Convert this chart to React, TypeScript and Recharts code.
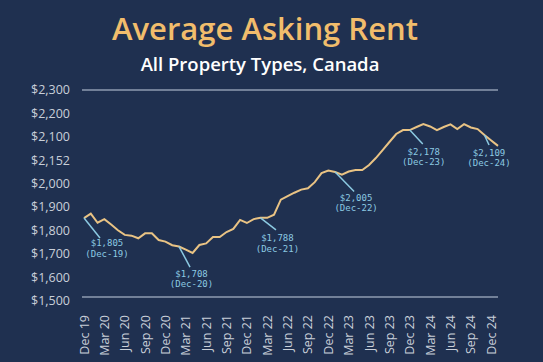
import { LineChart, Line, XAxis, YAxis, CartesianGrid } from "recharts";

const months = [
  "Dec 19", "Jan 20", "Feb 20", "Mar 20", "Apr 20", "May 20", "Jun 20", "Jul 20", "Aug 20", "Sep 20", "Oct 20", "Nov 20",
  "Dec 20", "Jan 21", "Feb 21", "Mar 21", "Apr 21", "May 21", "Jun 21", "Jul 21", "Aug 21", "Sep 21", "Oct 21", "Nov 21",
  "Dec 21", "Jan 22", "Feb 22", "Mar 22", "Apr 22", "May 22", "Jun 22", "Jul 22", "Aug 22", "Sep 22", "Oct 22", "Nov 22",
  "Dec 22", "Jan 23", "Feb 23", "Mar 23", "Apr 23", "May 23", "Jun 23", "Jul 23", "Aug 23", "Sep 23", "Oct 23", "Nov 23",
  "Dec 23", "Jan 24", "Feb 24", "Mar 24", "Apr 24", "May 24", "Jun 24", "Jul 24", "Aug 24", "Sep 24", "Oct 24", "Nov 24",
  "Dec 24", "Jan 25",
];

const rent = [
  1805, 1822, 1787, 1801, 1780, 1758, 1740, 1737, 1727, 1746, 1746, 1720,
  1714, 1700, 1695, 1683, 1670, 1701, 1707, 1732, 1732, 1751, 1763, 1798,
  1786, 1801, 1806, 1806, 1818, 1876, 1890, 1903, 1915, 1920, 1944, 1979,
  1989, 1983, 1973, 1985, 1991, 1991, 2010, 2037, 2068, 2099, 2130, 2145,
  2145, 2157, 2168, 2159, 2145, 2157, 2167, 2149, 2168, 2155, 2149, 2126,
  2105, 2084,
];

// gridline values (the value scale of the line)
const gridValues = [1500, 1600, 1700, 1800, 1900, 2000, 2100, 2200, 2300];

// y labels as printed on the original, bottom to top
const yLabels = ["$1,500", "$1,600", "$1,700", "$1,800", "$1,900", "$2,000", "$2,152", "$2,100", "$2,200", "$2,300"];

const callouts = [
  { at: 0, value: "$1,805", date: "(Dec-19)" },
  { at: 14, value: "$1,708", date: "(Dec-20)" },
  { at: 26, value: "$1,788", date: "(Dec-21)" },
  { at: 37, value: "$2,005", date: "(Dec-22)" },
  { at: 48, value: "$2,178", date: "(Dec-23)" },
  { at: 59, value: "$2,109", date: "(Dec-24)" },
];

// leader end (lx, ly) and text position (tx, t1, t2) relative to the anchor point
const calloutOffsets = [
  { lx: 16, ly: 20, tx: 23, t1: 25, t2: 36 },
  { lx: 11, ly: 20.5, tx: 12.5, t1: 27.5, t2: 37.5 },
  { lx: 15.5, ly: 12, tx: 17, t1: 20.5, t2: 31 },
  { lx: 19, ly: 19.5, tx: 21, t1: 25.7, t2: 36.3 },
  { lx: 13, ly: 14, tx: 14, t1: 21.6, t2: 32.2 },
  { lx: 4.6, ly: 10, tx: 4.6, t1: 17.7, t2: 28.3 },
];

const data = months.map((month, i) => ({ month, rent: rent[i] }));

const BG = "#1f3050";
const GOLD = "#e9c384";
const CALLOUT = "#8ccae2";
const AXIS_TEXT = "#c9cfd9";

const MonthTick = (props: any) => {
  const { x, y, payload } = props;
  return (
    <text
      x={x}
      y={y}
      transform={`rotate(-90, ${x}, ${y})`}
      textAnchor="end"
      dominantBaseline="central"
      fill={AXIS_TEXT}
      fontSize={12.5}
      fontFamily="Open Sans, sans-serif"
    >
      {payload.value}
    </text>
  );
};

const CalloutDot = (props: any) => {
  const { cx, cy, index } = props;
  const k = callouts.findIndex((c) => c.at === index);
  if (k < 0) return <g key={`d${index}`} />;
  const c = callouts[k];
  const o = calloutOffsets[k];
  return (
    <g key={`d${index}`}>
      <line x1={cx} y1={cy} x2={cx + o.lx} y2={cy + o.ly} stroke={CALLOUT} strokeWidth={1.5} />
      <text x={cx + o.tx} y={cy + o.t1} textAnchor="middle" dominantBaseline="central" fill={CALLOUT} fontSize={9} fontFamily="DejaVu Sans Mono, monospace">
        {c.value}
      </text>
      <text x={cx + o.tx} y={cy + o.t2} textAnchor="middle" dominantBaseline="central" fill={CALLOUT} fontSize={9} fontFamily="DejaVu Sans Mono, monospace">
        {c.date}
      </text>
    </g>
  );
};

export default function App() {
  return (
    <div style={{ position: "absolute", left: 0, top: 0, width: 543, height: 362, background: BG, overflow: "hidden" }}>
      <svg width={543} height={80} style={{ position: "absolute", left: 0, top: 0 }}>
        <text x={265} y={40} textAnchor="middle" fill="#f1bd6c" fontSize={31} fontWeight={600} fontFamily="Open Sans, sans-serif">
          Average Asking Rent
        </text>
        <text x={260} y={70.5} textAnchor="middle" fill="#ffffff" fontSize={18.5} fontWeight={600} fontFamily="Open Sans, sans-serif">
          All Property Types, Canada
        </text>
      </svg>
      <div style={{ position: "absolute", left: 0, top: 0 }}>
        <LineChart width={543} height={362} data={data} margin={{ top: 90, right: 45, bottom: 0, left: 0 }}>
          <CartesianGrid yAxisId="value" vertical={false} horizontal stroke="#8f9bb0" strokeWidth={1.5} />
          <XAxis
            dataKey="month"
            interval={2}
            height={65}
            padding={{ left: 2, right: 0 }}
            axisLine={false}
            tickLine={false}
            tickSize={0}
            tickMargin={18}
            tick={<MonthTick />}
          />
          <YAxis
            yAxisId="labels"
            orientation="left"
            width={82}
            type="number"
            domain={[0.158, 9]}
            allowDataOverflow
            ticks={[0, 1, 2, 3, 4, 5, 6, 7, 8, 9]}
            tickFormatter={(v: number) => yLabels[v] ?? ""}
            axisLine={false}
            tickLine={false}
            tickSize={0}
            tickMargin={12}
            tick={{ fill: AXIS_TEXT, fontSize: 12.5, fontFamily: "Open Sans, sans-serif" }}
          />
          <YAxis
            yAxisId="value"
            orientation="right"
            width={0}
            type="number"
            domain={[1500, 2300]}
            ticks={gridValues}
            axisLine={false}
            tickLine={false}
            tick={false}
          />
          <Line
            yAxisId="value"
            type="linear"
            dataKey="rent"
            stroke={GOLD}
            strokeWidth={2}
            dot={CalloutDot}
            activeDot={false}
            isAnimationActive={false}
          />
        </LineChart>
      </div>
    </div>
  );
}
